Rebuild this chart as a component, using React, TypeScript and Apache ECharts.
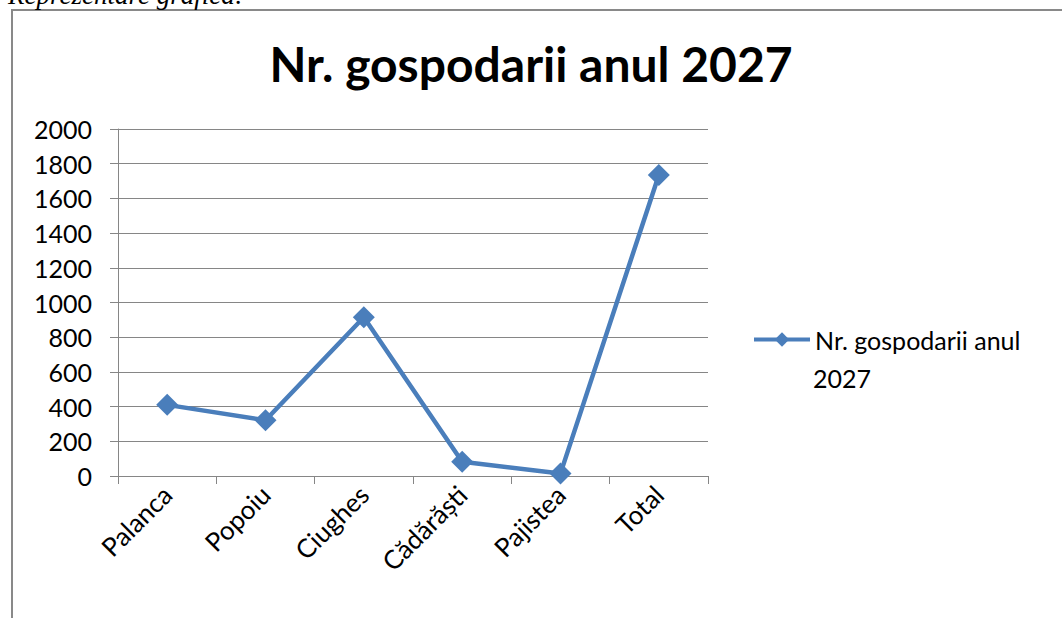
import React, { useEffect, useRef } from "react";
import * as echarts from "echarts";

const categories = ["Palanca", "Popoiu", "Ciughes", "Cădărăști", "Pajistea", "Total"];
const values = [410, 321, 915, 82, 15, 1735];
const seriesName = "Nr. gospodarii anul 2027";
const legendLine1 = "Nr. gospodarii anul";
const legendLine2 = "2027";
const titleText = "Nr. gospodarii anul 2027";
const captionText = "Reprezentare grafică:";
const yMin = 0;
const yMax = 2000;
const yInterval = 200;

const FONT = "Lato";
const LINE_COLOR = "#4a7ebb";
const GRID_COLOR = "#868686";

export default function App() {
  const ref = useRef<HTMLDivElement>(null);
  useEffect(() => {
    if (!ref.current) return;
    const chart = echarts.init(ref.current, undefined, { renderer: "svg" });
    chart.setOption({
      animation: false,
      backgroundColor: "#ffffff",
      title: {
        text: titleText,
        left: "center",
        top: 39,
        padding: 0,
        textStyle: { fontFamily: FONT, fontWeight: "bold", fontSize: 48, color: "#000" },
      },
      grid: { left: 118, right: 354, top: 129, bottom: 142, containLabel: false },
      legend: {
        show: true,
        left: 752,
        top: 327,
        padding: 0,
        itemWidth: 56,
        itemHeight: 18,
        data: [{ name: seriesName }],
        formatter: () => legendLine1,
        lineStyle: { width: 4 },
        textStyle: { fontFamily: FONT, fontSize: 25, color: "#000" },
      },
      xAxis: {
        type: "category",
        data: categories,
        boundaryGap: true,
        axisLine: { lineStyle: { color: GRID_COLOR, width: 1 } },
        axisTick: { show: true, length: 8, alignWithLabel: false, lineStyle: { color: GRID_COLOR } },
        axisLabel: {
          rotate: 45,
          margin: 14,
          fontFamily: FONT,
          fontSize: 26,
          color: "#000",
          interval: 0,
        },
      },
      yAxis: {
        type: "value",
        min: yMin,
        max: yMax,
        interval: yInterval,
        axisLine: { show: true, lineStyle: { color: GRID_COLOR, width: 1 } },
        axisTick: { show: true, length: 8, lineStyle: { color: GRID_COLOR } },
        splitLine: { show: true, lineStyle: { color: GRID_COLOR, width: 1 } },
        axisLabel: {
          margin: 26,
          fontFamily: FONT,
          fontSize: 25,
          color: "#000",
          formatter: (v: number) => String(v),
        },
      },
      series: [
        {
          name: seriesName,
          type: "line",
          data: values,
          symbol: "diamond",
          symbolSize: 22,
          lineStyle: { color: LINE_COLOR, width: 4.5 },
          itemStyle: { color: LINE_COLOR },
        },
      ],
      graphic: [
        {
          type: "rect",
          silent: true,
          shape: { x: 12, y: 10, width: 1200, height: 800 },
          style: { fill: "none", stroke: "#898989", lineWidth: 2 },
        },
        {
          type: "text",
          silent: true,
          x: 813,
          y: 378,
          style: {
            text: legendLine2,
            fontFamily: FONT,
            fontSize: 25,
            fill: "#000",
            verticalAlign: "middle",
          },
        },
        {
          type: "text",
          silent: true,
          x: 8,
          y: 8,
          style: {
            text: captionText,
            fontFamily: "Liberation Serif",
            fontStyle: "italic",
            fontSize: 27,
            fill: "#000",
            verticalAlign: "bottom",
          },
        },
      ],
    });
    return () => chart.dispose();
  }, []);
  return (
    <div
      ref={ref}
      style={{ position: "fixed", left: 0, top: 0, width: 1062, height: 618 }}
    />
  );
}
